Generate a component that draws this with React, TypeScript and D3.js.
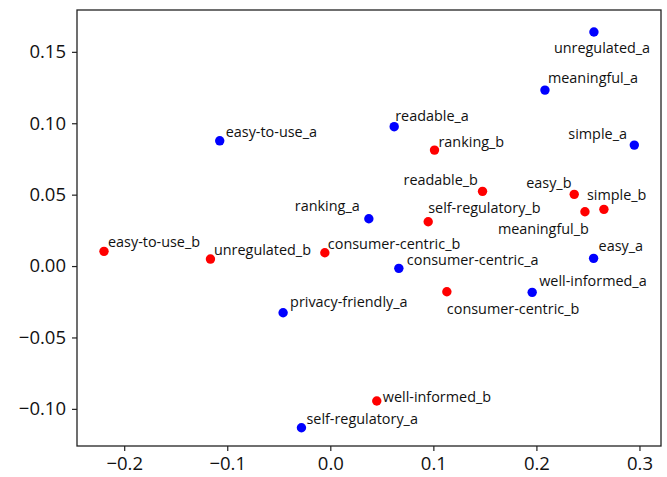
import * as React from 'react';
import * as d3 from 'd3';

// terms and their 2-d embedding coordinates
const labels = [
    'easy-to-use_a', 'easy-to-use_b', 'unregulated_b', 'consumer-centric_b', 'privacy-friendly_a',
    'self-regulatory_a', 'unregulated_a', 'meaningful_a', 'readable_a', 'ranking_b',
    'simple_a', 'readable_b', 'easy_b', 'simple_b', 'meaningful_b',
    'self-regulatory_b', 'ranking_a', 'consumer-centric_a', 'easy_a', 'consumer-centric_b',
    'well-informed_a', 'well-informed_b'
];
const xValues = [
    -0.1073, -0.2196, -0.1163, -0.0053, -0.0458,
    -0.028, 0.2558, 0.2083, 0.062, 0.1011,
    0.295, 0.1477, 0.2367, 0.2655, 0.2471,
    0.095, 0.0374, 0.0665, 0.2555, 0.1131,
    0.1959, 0.0451
];
const yValues = [
    0.0877, 0.0103, 0.0049, 0.0093, -0.0327,
    -0.1132, 0.1639, 0.1232, 0.0976, 0.0812,
    0.0847, 0.0523, 0.0502, 0.0397, 0.038,
    0.031, 0.0331, -0.0016, 0.0054, -0.018,
    -0.0184, -0.0945
];
const xTicks = [-0.2, -0.1, 0.0, 0.1, 0.2, 0.3];
const yTicks = [-0.10, -0.05, 0.00, 0.05, 0.10, 0.15];

// label placement (pixels from the point), as the annotations sit in the picture
const labelOffsets: [number, number][] = [
    [6, -4], [4, -4], [3.5, -4], [3, -4], [7, -6],
    [5, -4], [-40, 21], [3, -7], [1, -6], [4, -3],
    [-66, -6], [-79, -6], [-48, -6], [-17, -9], [-87, 22],
    [0, -9], [-74, -8], [8, -3], [5, -7], [0, 22],
    [7, -6], [6, 1]
];

const colour = (name: string) => (name.endsWith('_a') ? '#0000ff' : '#ff0000');

export default function App() {
    const ref = React.useRef<SVGSVGElement>(null);

    React.useEffect(() => {
        const width = 667, height = 477;
        const margin = { top: 10, right: 6, bottom: 31, left: 77 };
        const svg = d3.select(ref.current);
        svg.selectAll('*').remove();

        const xScale = d3.scaleLinear()
            .domain([-0.2458, 0.3209])
            .range([margin.left, width - margin.right]);
        const yScale = d3.scaleLinear()
            .domain([-0.126, 0.1793])
            .range([height - margin.bottom, margin.top]);

        const fmtX = (d: number) => d.toFixed(1).replace('-', '\u2212');
        const fmtY = (d: number) => d.toFixed(2).replace('-', '\u2212');

        const xAxis = d3.axisBottom(xScale).tickValues(xTicks).tickFormat(fmtX as any).tickSize(5).tickPadding(6);
        const yAxis = d3.axisLeft(yScale).tickValues(yTicks).tickFormat(fmtY as any).tickSize(5).tickPadding(6);

        const gx = svg.append('g')
            .attr('transform', 'translate(0,' + (height - margin.bottom) + ')')
            .call(xAxis);
        const gy = svg.append('g')
            .attr('transform', 'translate(' + margin.left + ',0)')
            .call(yAxis);
        [gx, gy].forEach(g => {
            g.select('.domain').remove();
            g.selectAll('line').attr('stroke', '#222').attr('stroke-width', 1.2);
            g.selectAll('text')
                .attr('fill', '#111')
                .style('font-family', '"Open Sans", sans-serif')
                .style('font-size', '18.5px');
        });

        // frame
        svg.append('rect')
            .attr('x', margin.left)
            .attr('y', margin.top)
            .attr('width', width - margin.left - margin.right)
            .attr('height', height - margin.top - margin.bottom)
            .attr('fill', 'none')
            .attr('stroke', '#222')
            .attr('stroke-width', 1.3);

        const idx = d3.range(labels.length);
        const g = svg.append('g');
        g.selectAll('.dot')
            .data(idx)
            .enter()
            .append('circle')
            .attr('cx', i => xScale(xValues[i]))
            .attr('cy', i => yScale(yValues[i]))
            .attr('r', 4.7)
            .style('fill', i => colour(labels[i]));
        g.selectAll('.label')
            .data(idx)
            .enter()
            .append('text')
            .attr('x', i => xScale(xValues[i]) + labelOffsets[i][0])
            .attr('y', i => yScale(yValues[i]) + labelOffsets[i][1])
            .style('font-family', '"Open Sans", sans-serif')
            .style('font-size', '14.4px')
            .style('fill', '#111')
            .text(i => labels[i]);
    }, []);

    return (
        <svg ref={ref} width={667} height={477}
             style={{ position: 'absolute', left: 0, top: 0, background: '#fff' }} />
    );
}
